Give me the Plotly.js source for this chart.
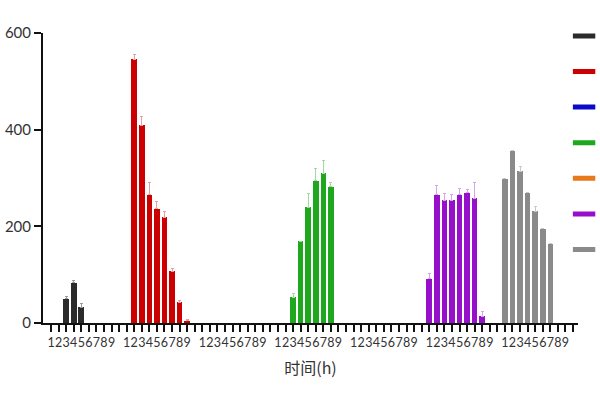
<!DOCTYPE html>
<html>
<head>
<meta charset="utf-8">
<script src="https://cdn.plot.ly/plotly-3.0.1.min.js"></script>
<style>
  html, body { margin: 0; padding: 0; background: #fff; }
  #chart { width: 600px; height: 400px; }
</style>
</head>
<body>
<div id="chart"></div>
<script>
// hour labels under every group
const hours = ['1', '2', '3', '4', '5', '6', '7', '8', '9'];

// one bar group per series, values per hour (1..9), 0 = no bar
const blackVals = [0, 0, 50, 83, 33, 0, 0, 0, 0];
const blackErr = [0, 0, 5, 5, 7, 0, 0, 0, 0];
const redVals = [0, 546, 409, 265, 236, 219, 107, 43, 5];
const redErr = [0, 9, 19, 25, 15, 11, 5, 4, 3];
const blueVals = [0, 0, 0, 0, 0, 0, 0, 0, 0];
const blueErr = [0, 0, 0, 0, 0, 0, 0, 0, 0];
const greenVals = [0, 0, 53, 169, 240, 294, 310, 282, 0];
const greenErr = [0, 0, 8, 0, 27, 25, 27, 9, 0];
const orangeVals = [0, 0, 0, 0, 0, 0, 0, 0, 0];
const orangeErr = [0, 0, 0, 0, 0, 0, 0, 0, 0];
const purpleVals = [92, 265, 254, 254, 265, 269, 258, 14, 0];
const purpleErr = [10, 19, 14, 11, 14, 7, 32, 10, 0];
const grayVals = [298, 356, 314, 270, 231, 195, 164, 0, 0];
const grayErr = [0, 0, 9, 0, 10, 0, 0, 0, 0];

const series = [
    {vals: blackVals, err: blackErr, color: '#2b2b2b', errColor: '#9a9a9a'},
    {vals: redVals, err: redErr, color: '#cc0000', errColor: '#e9a0a0'},
    {vals: blueVals, err: blueErr, color: '#0a0ac8', errColor: '#a0a0e8'},
    {vals: greenVals, err: greenErr, color: '#1ea81e', errColor: '#a6d8a6'},
    {vals: orangeVals, err: orangeErr, color: '#e8781a', errColor: '#f2c09a'},
    {vals: purpleVals, err: purpleErr, color: '#9610cc', errColor: '#d4a6e8'},
    {vals: grayVals, err: grayErr, color: '#8a8a8a', errColor: '#c8c8c8'},
];

// each group takes 9 hour slots plus one empty slot
const slotsPerGroup = hours.length + 1;
const nSlots = series.length * slotsPerGroup;

const tickVals = [];
const tickText = [];
for (let k = 0; k < nSlots; k++) {
    tickVals.push(k);
    const h = k % slotsPerGroup;
    tickText.push(h < hours.length ? hours[h] : '');
}

const traces = [];
series.forEach(function (s, g) {
    traces.push({
        type: 'bar',
        x: hours.map(function (h, i) { return g * slotsPerGroup + i; }),
        y: s.vals,
        width: 0.74,
        marker: {color: s.color},
        error_y: {
            type: 'data',
            symmetric: false,
            array: s.err,
            arrayminus: s.err.map(function () { return 0; }),
            color: s.errColor,
            thickness: 1,
            width: 1.5,
        },
        showlegend: false,
        hoverinfo: 'y',
    });
});
// legend keys: short thick dashes
series.forEach(function (s, g) {
    traces.push({
        type: 'scatter',
        mode: 'markers',
        x: [null],
        y: [null],
        name: '',
        legendgroup: 'g' + g,
        marker: {symbol: 'line-ew', size: 16, line: {color: s.color, width: 5}},
        showlegend: true,
    });
});

const layout = {
    width: 600,
    height: 400,
    margin: {l: 43, r: 22, t: 33, b: 77, autoexpand: false},
    paper_bgcolor: '#fff',
    plot_bgcolor: '#fff',
    font: {family: 'Lato, "Noto Sans CJK SC", sans-serif', color: '#333'},
    bargap: 0,
    xaxis: {
        range: [-1.06, nSlots - 0.34],
        tickmode: 'array',
        tickvals: tickVals,
        ticktext: tickText,
        tickangle: 0,
        ticks: 'outside',
        ticklen: 7,
        tickwidth: 2,
        tickcolor: '#111',
        showline: true,
        linecolor: '#111',
        linewidth: 2,
        showgrid: false,
        zeroline: false,
        tickfont: {size: 12.5, color: '#333'},
        title: {text: '时间(h)', font: {size: 16, color: '#333', family: '"Noto Sans CJK SC", sans-serif'}, standoff: 14},
        fixedrange: true,
    },
    yaxis: {
        range: [0, 600],
        tickvals: [0, 200, 400, 600],
        ticks: 'outside',
        ticklen: 7,
        tickwidth: 2,
        tickcolor: '#111',
        showline: true,
        linecolor: '#111',
        linewidth: 2,
        showgrid: false,
        zeroline: false,
        tickfont: {size: 15, color: '#333'},
        fixedrange: true,
    },
    legend: {
        x: 0.974,
        xanchor: 'left',
        y: 1.04,
        yanchor: 'top',
        bgcolor: 'rgba(0,0,0,0)',
        tracegroupgap: 16.6,
        font: {size: 12},
        itemclick: false,
        maxheight: 1,
    },
    showlegend: true,
};

Plotly.newPlot('chart', traces, layout, {displayModeBar: false, staticPlot: true});
</script>
</body>
</html>
